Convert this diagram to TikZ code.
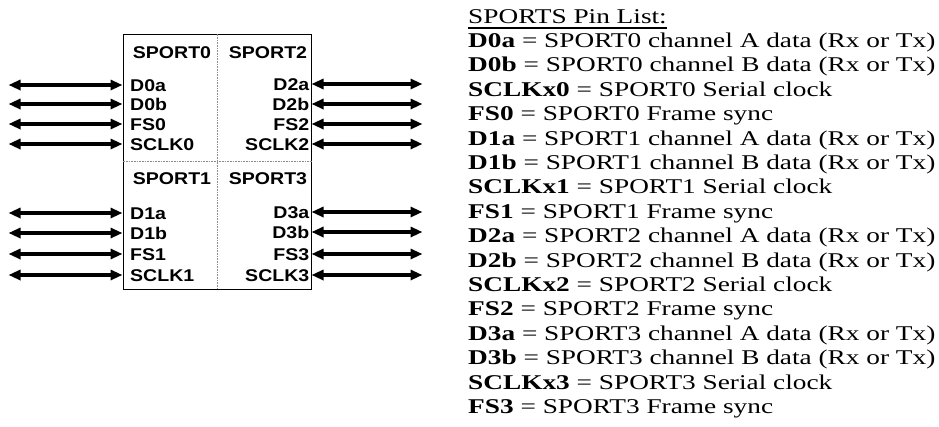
\documentclass[tikz,border=0pt]{standalone}
\usepackage{fontspec}
\setsansfont{Liberation Sans}[FakeStretch=1.15]
\newfontfamily\listfont{Liberation Serif}[FakeStretch=1.3]
\usepackage{tikz}
\usetikzlibrary{arrows.meta, positioning}

\newcommand\headline[1]{\setbox0\hbox{#1}\rlap{\rule[-5.5pt]{\wd0}{1.6pt}}\box0}

\begin{document}
\begin{tikzpicture}[
  x=1pt, y=-1pt,
  port/.style={font=\sffamily\bfseries\fontsize{17}{18}\selectfont, inner sep=0pt, text height=12.2pt, text depth=0pt},
  pinl/.style={port, anchor=west},
  pinr/.style={port, anchor=east},
  bus/.style={{Triangle[length=12pt,width=10pt]}-{Triangle[length=12pt,width=10pt]}, line width=3.3pt},
  split/.style={densely dotted, black!45, line width=0.6pt}
]
\useasboundingbox (0,0) rectangle (939,426);

% chip outline with the four SPORT quadrants
\node[draw, line width=1pt, minimum width=188pt, minimum height=255pt, inner sep=0pt] (chip) at (217,161.5) {};
\draw[split] (chip.north) -- (chip.south);
\draw[split] (chip.west) -- (chip.east);

\node[port] (sp0) at (172,52) {SPORT0};
\node[port] (sp2) at (268,52) {SPORT2};
\node[port] (sp1) at (172,178) {SPORT1};
\node[port] (sp3) at (268,178) {SPORT3};

% left side pins
\node[pinl] (d0a) at (130,85) {D0a};
\node[pinl] (d0b) at (130,104) {D0b};
\node[pinl] (fs0) at (130,124) {FS0};
\node[pinl] (sclk0) at (130,144) {SCLK0};
\node[pinl] (d1a) at (130,213) {D1a};
\node[pinl] (d1b) at (130,233) {D1b};
\node[pinl] (fs1) at (130,254) {FS1};
\node[pinl] (sclk1) at (130,275) {SCLK1};

% right side pins
\node[pinr] (d2a) at (309.5,84) {D2a};
\node[pinr] (d2b) at (309.5,104) {D2b};
\node[pinr] (fs2) at (309.5,124) {FS2};
\node[pinr] (sclk2) at (309.5,144) {SCLK2};
\node[pinr] (d3a) at (309.5,212) {D3a};
\node[pinr] (d3b) at (309.5,232) {D3b};
\node[pinr] (fs3) at (309.5,254) {FS3};
\node[pinr] (sclk3) at (309.5,275) {SCLK3};

\draw[bus] (chip.west |- d0a) -- ++(-114,0);
\draw[bus] (chip.west |- d0b) -- ++(-114,0);
\draw[bus] (chip.west |- fs0) -- ++(-114,0);
\draw[bus] (chip.west |- sclk0) -- ++(-114,0);
\draw[bus] (chip.west |- d1a) -- ++(-114,0);
\draw[bus] (chip.west |- d1b) -- ++(-114,0);
\draw[bus] (chip.west |- fs1) -- ++(-114,0);
\draw[bus] (chip.west |- sclk1) -- ++(-114,0);

\draw[bus] (chip.east |- d2a) -- ++(111,0);
\draw[bus] (chip.east |- d2b) -- ++(111,0);
\draw[bus] (chip.east |- fs2) -- ++(111,0);
\draw[bus] (chip.east |- sclk2) -- ++(111,0);
\draw[bus] (chip.east |- d3a) -- ++(111,0);
\draw[bus] (chip.east |- d3b) -- ++(111,0);
\draw[bus] (chip.east |- fs3) -- ++(111,0);
\draw[bus] (chip.east |- sclk3) -- ++(111,0);

% pin list
\node[anchor=north west, align=left, inner sep=0pt, font=\listfont\fontsize{21}{24.4}\selectfont] (pins) at (468,9) {
  \headline{SPORTS Pin List:}\\
  \textbf{D0a} = SPORT0 channel A data (Rx or Tx)\\
  \textbf{D0b} = SPORT0 channel B data (Rx or Tx)\\
  \textbf{SCLKx0} = SPORT0 Serial clock\\
  \textbf{FS0} = SPORT0 Frame sync\\
  \textbf{D1a} = SPORT1 channel A data (Rx or Tx)\\
  \textbf{D1b} = SPORT1 channel B data (Rx or Tx)\\
  \textbf{SCLKx1} = SPORT1 Serial clock\\
  \textbf{FS1} = SPORT1 Frame sync\\
  \textbf{D2a} = SPORT2 channel A data (Rx or Tx)\\
  \textbf{D2b} = SPORT2 channel B data (Rx or Tx)\\
  \textbf{SCLKx2} = SPORT2 Serial clock\\
  \textbf{FS2} = SPORT2 Frame sync\\
  \textbf{D3a} = SPORT3 channel A data (Rx or Tx)\\
  \textbf{D3b} = SPORT3 channel B data (Rx or Tx)\\
  \textbf{SCLKx3} = SPORT3 Serial clock\\
  \textbf{FS3} = SPORT3 Frame sync};

\end{tikzpicture}
\end{document}
